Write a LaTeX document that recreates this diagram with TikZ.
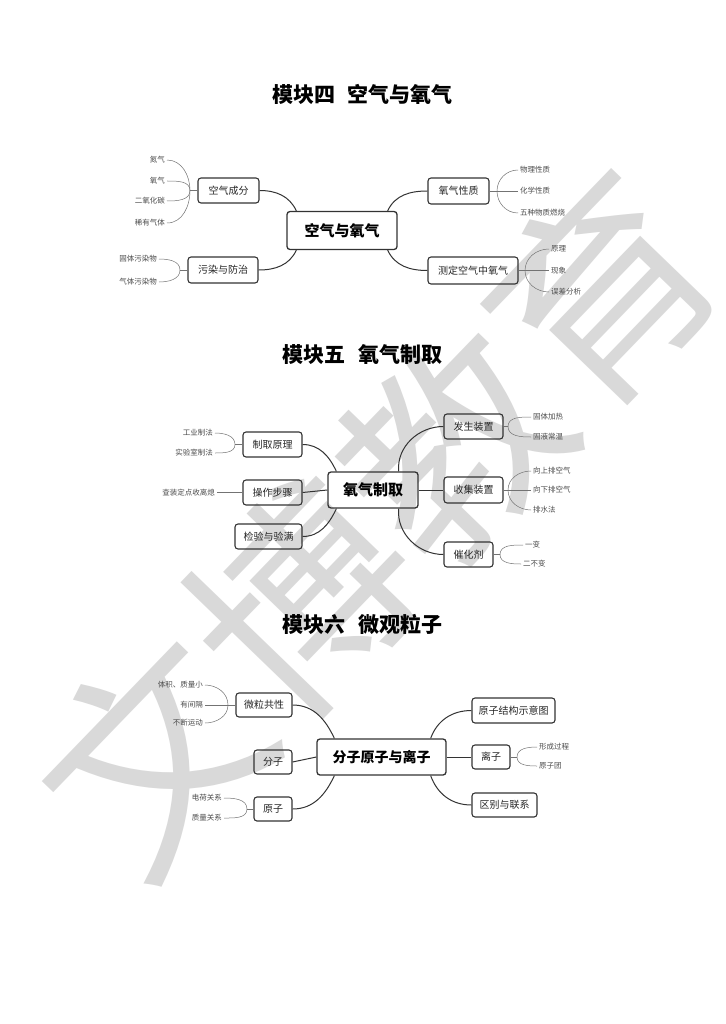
\documentclass[tikz,border=0pt]{standalone}
\usepackage{fontspec}
\newfontfamily\cjk{Noto Sans CJK SC}
\usetikzlibrary{calc}
\begin{document}
\begin{tikzpicture}[x=1pt,y=1pt,
  box/.style={draw=black!80, line width=1.1pt, rounded corners=3pt, inner sep=0pt, minimum height=25pt, text=black!85, font=\cjk\fontsize{10}{12}\selectfont},
  hub/.style={box, line width=1.3pt, minimum height=37pt, text=black, font=\cjk\bfseries\fontsize{15}{18}\selectfont},
  lf/.style={inner xsep=2pt, inner ysep=0.5pt, text=black!70, font=\cjk\fontsize{7.5}{9}\selectfont},
  conn/.style={draw=black!80, line width=1pt},
  leafline/.style={draw=black!55, line width=0.5pt},
  ttl/.style={inner sep=0pt, font=\cjk\bfseries\fontsize{21}{24}\selectfont}
]
\fill[white] (0,0) rectangle (725,-1024);
\useasboundingbox (0,0) rectangle (725,-1024);

% watermark
\node[text=black!15, inner sep=0pt, rotate=46, font=\cjk\fontsize{215}{215}\selectfont] (wm) at (377,-522) {文博教育};

% ===== Module 4 =====
\node[ttl] (t4) at (362.5,-94) {模块四\hspace{0.6em}空气与氧气};
\node[hub, minimum width=110pt, minimum height=38pt] (c4) at (342,-230.5) {空气与氧气};
\node[box, minimum width=61pt] (a1) at (228.5,-190.5) {空气成分};
\node[box, minimum width=70pt, minimum height=26pt] (a2) at (223,-270) {污染与防治};
\node[box, minimum width=61pt, minimum height=26pt] (a3) at (458.5,-191) {氧气性质};
\node[box, minimum width=90pt, minimum height=27pt] (a4) at (473,-270.5) {测定空气中氧气};

\draw[conn] (a1.east) to[out=0,in=115] ($(c4.north west)+(10,0)$);
\draw[conn] (a2.east) to[out=0,in=-115] ($(c4.south west)+(10,0)$);
\draw[conn] ($(c4.north east)+(-10,0)$) to[out=65,in=180] (a3.west);
\draw[conn] ($(c4.south east)+(-10,0)$) to[out=-65,in=180] (a4.west);

% leaves a1
\coordinate (j1) at (190,-190.5);
\node[lf, anchor=east] (l11) at (167,-160) {氮气};
\node[lf, anchor=east] (l12) at (167,-181) {氧气};
\node[lf, anchor=east] (l13) at (167,-201) {二氧化碳};
\node[lf, anchor=east] (l14) at (167,-223) {稀有气体};
\draw[leafline] (a1.west) -- (j1);
\draw[leafline] (j1) to[out=90,in=0] (l11.east);
\draw[leafline] (j1) to[out=90,in=0] (l12.east);
\draw[leafline] (j1) to[out=-90,in=0] (l13.east);
\draw[leafline] (j1) to[out=-90,in=0] (l14.east);

% leaves a2
\coordinate (j2) at (180,-270);
\node[lf, anchor=east] (l21) at (159,-259) {固体污染物};
\node[lf, anchor=east] (l22) at (159,-282) {气体污染物};
\draw[leafline] (a2.west) -- (j2);
\draw[leafline] (j2) to[out=90,in=0] (l21.east);
\draw[leafline] (j2) to[out=-90,in=0] (l22.east);

% leaves a3
\coordinate (j3) at (497,-191);
\node[lf, anchor=west] (l31) at (518,-170) {物理性质};
\node[lf, anchor=west] (l32) at (518,-191) {化学性质};
\node[lf, anchor=west] (l33) at (518,-213) {五种物质燃烧};
\draw[leafline] (a3.east) -- (l32.west);
\draw[leafline] (j3) to[out=90,in=180] (l31.west);
\draw[leafline] (j3) to[out=-90,in=180] (l33.west);

% leaves a4
\coordinate (j4) at (525,-270.5);
\node[lf, anchor=west] (l41) at (549,-249) {原理};
\node[lf, anchor=west] (l42) at (549,-270.5) {现象};
\node[lf, anchor=west] (l43) at (549,-292) {误差分析};
\draw[leafline] (a4.east) -- (l42.west);
\draw[leafline] (j4) to[out=90,in=180] (l41.west);
\draw[leafline] (j4) to[out=-90,in=180] (l43.west);

% ===== Module 5 =====
\node[ttl] (t5) at (362.5,-355) {模块五\hspace{0.6em}氧气制取};
\node[hub, minimum width=90pt, minimum height=36pt] (c5) at (373,-490) {氧气制取};
\node[box, minimum width=59pt] (b1) at (473.5,-426.5) {发生装置};
\node[box, minimum width=59pt, minimum height=26pt] (b2) at (473.5,-490) {收集装置};
\node[box, minimum width=49pt] (b3) at (468.5,-554.5) {催化剂};
\node[box, minimum width=59pt] (b4) at (272.5,-444.5) {制取原理};
\node[box, minimum width=59pt] (b5) at (272.5,-492.5) {操作步骤};
\node[box, minimum width=67pt] (b6) at (268.5,-536.5) {检验与验满};

\draw[conn] (b4.east) to[out=0,in=115] ($(c5.north west)+(9,0)$);
\draw[conn] (b5.east) -- (c5.west);
\draw[conn] (b6.east) to[out=0,in=-115] ($(c5.south west)+(9,0)$);
\draw[conn] ($(c5.north east)+(-20,0)$) to[out=95,in=180] (b1.west);
\draw[conn] (c5.east) -- (b2.west);
\draw[conn] ($(c5.south east)+(-20,0)$) to[out=-95,in=180] (b3.west);

% leaves b1
\coordinate (k1) at (508,-426.5);
\node[lf, anchor=west] (m11) at (531,-417) {固体加热};
\node[lf, anchor=west] (m12) at (531,-437) {固液常温};
\draw[leafline] (b1.east) -- (k1);
\draw[leafline] (k1) to[out=90,in=180] (m11.west);
\draw[leafline] (k1) to[out=-90,in=180] (m12.west);

% leaves b2
\coordinate (k2) at (508,-490);
\node[lf, anchor=west] (m21) at (531,-471) {向上排空气};
\node[lf, anchor=west] (m22) at (531,-490) {向下排空气};
\node[lf, anchor=west] (m23) at (531,-510) {排水法};
\draw[leafline] (b2.east) -- (m22.west);
\draw[leafline] (k2) to[out=90,in=180] (m21.west);
\draw[leafline] (k2) to[out=-90,in=180] (m23.west);

% leaves b3
\coordinate (k3) at (500,-554.5);
\node[lf, anchor=west] (m31) at (523,-545) {一变};
\node[lf, anchor=west] (m32) at (521,-564) {二不变};
\draw[leafline] (b3.east) -- (k3);
\draw[leafline] (k3) to[out=90,in=180] (m31.west);
\draw[leafline] (k3) to[out=-90,in=180] (m32.west);

% leaves b4
\coordinate (k4) at (235,-444.5);
\node[lf, anchor=east] (m41) at (215,-433) {工业制法};
\node[lf, anchor=east] (m42) at (215,-453) {实验室制法};
\draw[leafline] (b4.west) -- (k4);
\draw[leafline] (k4) to[out=90,in=0] (m41.east);
\draw[leafline] (k4) to[out=-90,in=0] (m42.east);

% leaf b5
\node[lf, anchor=east] (m51) at (217,-492.5) {查装定点收离熄};
\draw[leafline] (b5.west) -- (m51.east);

% ===== Module 6 =====
\node[ttl] (t6) at (362.5,-624) {模块六\hspace{0.6em}微观粒子};
\node[hub, minimum width=129pt, minimum height=36pt, font=\cjk\bfseries\fontsize{14}{17}\selectfont] (c6) at (381.5,-757) {分子原子与离子};
\node[box, minimum width=83pt] (d1) at (513.5,-710.5) {原子结构示意图};
\node[box, minimum width=38pt, minimum height=24pt] (d2) at (491,-757) {离子};
\node[box, minimum width=65pt, minimum height=24pt] (d3) at (504.5,-805) {区别与联系};
\node[box, minimum width=56pt, minimum height=24pt] (d4) at (264,-705) {微粒共性};
\node[box, minimum width=38pt, minimum height=24pt] (d5) at (273,-762) {分子};
\node[box, minimum width=38pt, minimum height=24pt] (d6) at (273,-809) {原子};

\draw[conn] (d4.east) to[out=0,in=115] ($(c6.north west)+(18,0)$);
\draw[conn] (d5.east) -- (c6.west);
\draw[conn] (d6.east) to[out=0,in=-115] ($(c6.south west)+(18,0)$);
\draw[conn] ($(c6.north east)+(-16,0)$) to[out=70,in=180] (d1.west);
\draw[conn] (c6.east) -- (d2.west);
\draw[conn] ($(c6.south east)+(-16,0)$) to[out=-70,in=180] (d3.west);

% leaves d2
\coordinate (n2) at (517,-757);
\node[lf, anchor=west] (p21) at (537,-747) {形成过程};
\node[lf, anchor=west] (p22) at (537,-766) {原子团};
\draw[leafline] (d2.east) -- (n2);
\draw[leafline] (n2) to[out=90,in=180] (p21.west);
\draw[leafline] (n2) to[out=-90,in=180] (p22.west);

% leaves d4
\coordinate (n4) at (228,-705);
\node[lf, anchor=east] (p41) at (205,-685) {体积、质量小};
\node[lf, anchor=east] (p42) at (205,-705) {有间隔};
\node[lf, anchor=east] (p43) at (205,-723) {不断运动};
\draw[leafline] (d4.west) -- (p42.east);
\draw[leafline] (n4) to[out=90,in=0] (p41.east);
\draw[leafline] (n4) to[out=-90,in=0] (p43.east);

% leaves d6
\coordinate (n6) at (247,-809);
\node[lf, anchor=east] (p61) at (224,-798) {电荷关系};
\node[lf, anchor=east] (p62) at (224,-818) {质量关系};
\draw[leafline] (d6.west) -- (n6);
\draw[leafline] (n6) to[out=90,in=0] (p61.east);
\draw[leafline] (n6) to[out=-90,in=0] (p62.east);
\end{tikzpicture}
\end{document}
